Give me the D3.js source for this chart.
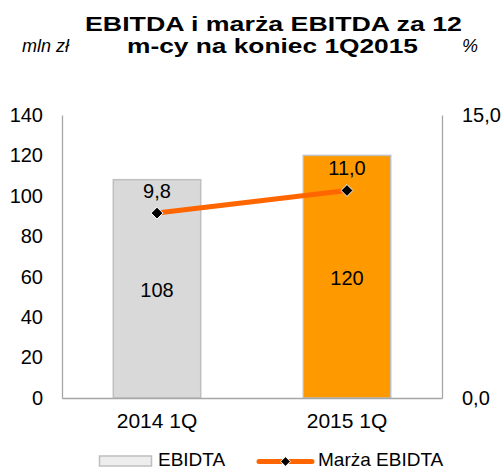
<!DOCTYPE html>
<html>
<head>
<meta charset="utf-8">
<script src="https://cdn.jsdelivr.net/npm/d3@7"></script>
<style>
  body { margin: 0; background: #fff; }
  text { font-family: "Liberation Sans", Arial, sans-serif; fill: #000; }
</style>
</head>
<body>
<svg id="chart" width="504" height="470"></svg>
<script>
// data
var categories = ["2014 1Q", "2015 1Q"];
var ebitda = [108, 120];
var marza = [9.8, 11.0];
var leftTicks = [0, 20, 40, 60, 80, 100, 120, 140];
var rightTicks = [0, 15];
var titleLines = ["EBITDA i marża EBITDA za 12", "m-cy na koniec 1Q2015"];

var width = 504, height = 470;
var plot = {left: 62, right: 442, top: 115, bottom: 398};

var barFill = ["#D9D9D9", "#FF9900"];
var axisColor = "#A6A6A6";

var pl = d3.formatLocale({decimal: ",", thousands: " ", grouping: [3], currency: ["", " zł"]});
var fmt1 = pl.format(".1f");

var svg = d3.select("#chart");

var x = d3.scaleBand()
  .domain(categories)
  .range([plot.left, plot.right])
  .paddingInner(0.54)
  .paddingOuter(0.27);

var y = d3.scaleLinear().domain([0, 140]).range([plot.bottom, plot.top]);
var y2 = d3.scaleLinear().domain([0, 15]).range([plot.bottom, plot.top]);

// title
svg.selectAll(".title")
  .data(titleLines)
  .enter().append("text")
  .attr("class", "title")
  .attr("x", function(d, i) { return i == 0 ? 273.5 : 272.5; })
  .attr("y", function(d, i) { return 30.5 + i * 22; })
  .attr("text-anchor", "middle")
  .attr("textLength", function(d, i) { return i == 0 ? 377 : 291; })
  .attr("lengthAdjust", "spacingAndGlyphs")
  .style("font-size", "21px")
  .style("font-weight", "bold")
  .text(function(d) { return d; });

svg.append("text")
  .attr("x", 22).attr("y", 52)
  .style("font-size", "18px")
  .style("font-style", "italic")
  .text("mln zł");

svg.append("text")
  .attr("x", 462).attr("y", 52)
  .style("font-size", "18px")
  .style("font-style", "italic")
  .text("%");

// bars
svg.selectAll(".bar")
  .data(ebitda)
  .enter().append("rect")
  .attr("class", "bar")
  .attr("x", function(d, i) { return x(categories[i]); })
  .attr("y", function(d) { return y(d); })
  .attr("width", x.bandwidth())
  .attr("height", function(d) { return y(0) - y(d); })
  .attr("fill", function(d, i) { return barFill[i]; })
  .attr("stroke", "#BFBFBF")
  .attr("stroke-width", 1.5);

svg.selectAll(".barLabel")
  .data(ebitda)
  .enter().append("text")
  .attr("class", "barLabel")
  .attr("x", function(d, i) { return x(categories[i]) + x.bandwidth() / 2; })
  .attr("y", function(d) { return (y(d) + y(0)) / 2; })
  .attr("dy", "0.42em")
  .attr("text-anchor", "middle")
  .style("font-size", "20px")
  .text(function(d) { return d; });

// axes (lines only, no tick marks)
var axisLeft = d3.axisLeft(y).tickValues(leftTicks).tickSize(0).tickPadding(19);
var axisRight = d3.axisRight(y2).tickValues(rightTicks).tickSize(0).tickPadding(20)
  .tickFormat(fmt1);

var gl = svg.append("g").attr("transform", "translate(" + plot.left + ",0)").call(axisLeft);
var gr = svg.append("g").attr("transform", "translate(" + plot.right + ",0)").call(axisRight);
[gl, gr].forEach(function(g) {
  g.select(".domain").attr("stroke", axisColor).attr("stroke-width", 1.3);
  g.selectAll("text")
    .style("font-family", "\"Liberation Sans\", Arial, sans-serif")
    .style("font-size", "20px")
    .attr("fill", "#000");
});

var axisBottom = d3.axisBottom(x).tickSize(0).tickPadding(15);
var gb = svg.append("g").attr("transform", "translate(0," + plot.bottom + ")").call(axisBottom);
gb.select(".domain").attr("stroke", axisColor).attr("stroke-width", 1.3);
gb.selectAll("text")
  .style("font-family", "\"Liberation Sans\", Arial, sans-serif")
  .style("font-size", "21px")
  .attr("fill", "#000");

// line series
var line = d3.line()
  .x(function(d, i) { return x(categories[i]) + x.bandwidth() / 2; })
  .y(function(d) { return y2(d); });

svg.append("path")
  .datum(marza)
  .attr("d", line)
  .attr("fill", "none")
  .attr("stroke", "#FF6600")
  .attr("stroke-width", 5);

var diamond = d3.symbol().type(d3.symbolDiamond2).size(90);

svg.selectAll(".marker")
  .data(marza)
  .enter().append("path")
  .attr("class", "marker")
  .attr("d", diamond)
  .attr("transform", function(d, i) {
    return "translate(" + (x(categories[i]) + x.bandwidth() / 2) + "," + y2(d) + ")";
  })
  .attr("fill", "#000")
  .attr("stroke", "#fff")
  .attr("stroke-width", 1);

svg.selectAll(".lineLabel")
  .data(marza)
  .enter().append("text")
  .attr("class", "lineLabel")
  .attr("x", function(d, i) { return x(categories[i]) + x.bandwidth() / 2; })
  .attr("y", function(d) { return y2(d) - 15; })
  .attr("text-anchor", "middle")
  .style("font-size", "20px")
  .text(function(d) { return fmt1(d); });

// legend
var leg = svg.append("g");
leg.append("rect")
  .attr("x", 99.5).attr("y", 456)
  .attr("width", 52).attr("height", 10)
  .attr("fill", "#EDEDED")
  .attr("stroke", "#BFBFBF")
  .attr("stroke-width", 1.5);
leg.append("text")
  .attr("x", 158).attr("y", 466)
  .style("font-size", "19px")
  .text("EBIDTA");

leg.append("line")
  .attr("x1", 259).attr("x2", 312)
  .attr("y1", 461.5).attr("y2", 461.5)
  .attr("stroke", "#FF6600")
  .attr("stroke-width", 5)
  .attr("stroke-linecap", "round");
leg.append("path")
  .attr("d", d3.symbol().type(d3.symbolDiamond2).size(60))
  .attr("transform", "translate(285.5,461.5)")
  .attr("fill", "#000")
  .attr("stroke", "#fff")
  .attr("stroke-width", 1);
leg.append("text")
  .attr("x", 318).attr("y", 466)
  .style("font-size", "19px")
  .text("Marża EBIDTA");
</script>
</body>
</html>
